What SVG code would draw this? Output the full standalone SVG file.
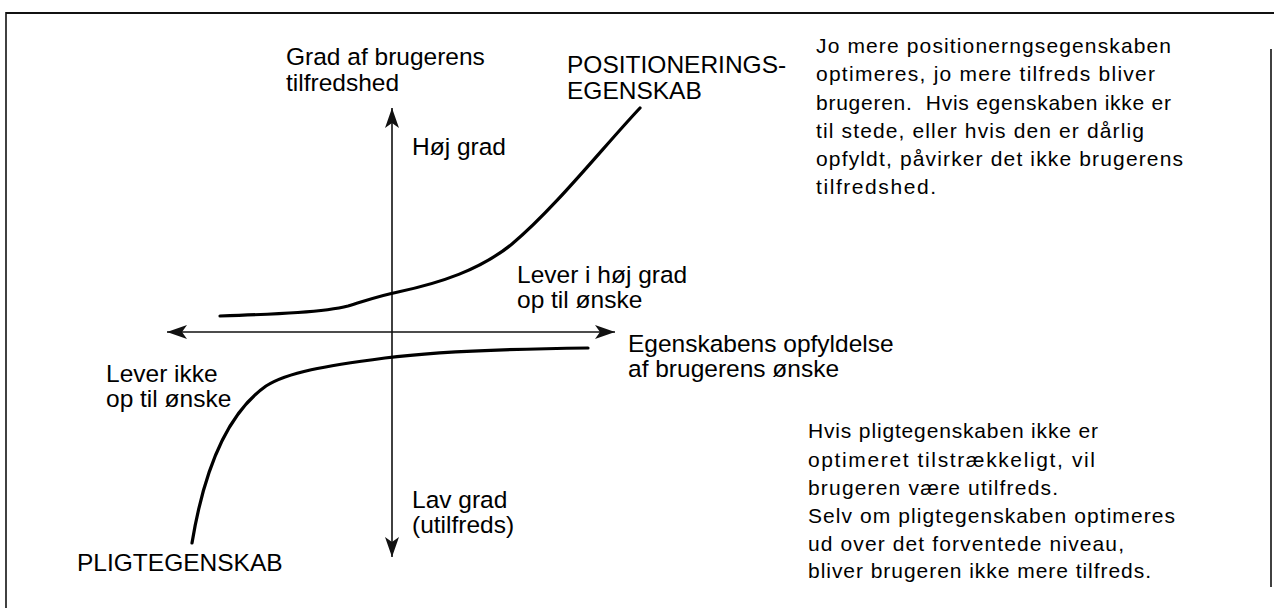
<svg xmlns="http://www.w3.org/2000/svg" width="1274" height="608" viewBox="0 0 1274 608">
  <style>
    .lbl { font-family: "Liberation Sans", Arial, sans-serif; font-size: 24.5px; fill: #000; }
    .hand { font-family: "Liberation Sans", Arial, sans-serif; font-size: 21px; fill: #000; white-space: pre; }
    .axis { stroke: #111; stroke-width: 1.6; fill: none; }
    .curve { stroke: #000; stroke-width: 3.2; fill: none; stroke-linecap: round; stroke-linejoin: round; }
    .frame { stroke: #111; fill: none; }
  </style>
  <defs>
    <marker id="arrow" viewBox="0 0 20 14" refX="20" refY="7" markerWidth="20" markerHeight="14" markerUnits="userSpaceOnUse" orient="auto-start-reverse">
      <path d="M0,0 L20,7 L0,14 L5,7 Z" fill="#111"/>
    </marker>
  </defs>
  <rect x="0" y="0" width="1274" height="608" fill="#fff"/>

  <g id="frame">
    <line class="frame" x1="6" y1="13" x2="1274" y2="13" stroke-width="2.2"/>
    <line class="frame" x1="6" y1="12" x2="6" y2="608" stroke-width="1.6"/>
    <line class="frame" x1="1271" y1="49" x2="1271" y2="587" stroke-width="1.6"/>
  </g>

  <g id="connectors">
    <line id="y-axis" class="axis" x1="392" y1="557" x2="392" y2="108" marker-start="url(#arrow)" marker-end="url(#arrow)"/>
    <line id="x-axis" class="axis" x1="167" y1="332" x2="615" y2="332" marker-start="url(#arrow)" marker-end="url(#arrow)"/>
    <path id="curve-positionering" class="curve" d="M220,316 C280,314 325,312 348,306 C365,301 378,296 398,292 C440,283 480,270 512,244 C555,208 605,145 640,108"/>
    <path id="curve-pligt" class="curve" d="M588,348 C500,349 425,353 385,358 C325,366 288,372 266,386 C232,410 206,458 192,543"/>
  </g>

  <g id="y-axis-title">
    <text class="lbl" x="286" y="65">Grad af brugerens</text>
    <text class="lbl" x="286" y="91">tilfredshed</text>
  </g>
  <g id="hoej-grad">
    <text class="lbl" x="412" y="155">Høj grad</text>
  </g>
  <g id="positionering-label">
    <text class="lbl" x="567" y="73">POSITIONERINGS-</text>
    <text class="lbl" x="567" y="99">EGENSKAB</text>
  </g>
  <g id="lever-hoej">
    <text class="lbl" x="517" y="283">Lever i høj grad</text>
    <text class="lbl" x="517" y="308">op til ønske</text>
  </g>
  <g id="x-axis-title">
    <text class="lbl" x="628" y="352">Egenskabens opfyldelse</text>
    <text class="lbl" x="628" y="377">af brugerens ønske</text>
  </g>
  <g id="lever-ikke">
    <text class="lbl" x="106" y="382">Lever ikke</text>
    <text class="lbl" x="106" y="407">op til ønske</text>
  </g>
  <g id="lav-grad">
    <text class="lbl" x="412" y="508">Lav grad</text>
    <text class="lbl" x="412" y="533">(utilfreds)</text>
  </g>
  <g id="pligt-label">
    <text class="lbl" x="77" y="571">PLIGTEGENSKAB</text>
  </g>

  <g id="note-positionering">
    <text class="hand" x="816" y="53" textLength="355">Jo mere positionerngsegenskaben</text>
    <text class="hand" x="816" y="81" textLength="339">optimeres, jo mere tilfreds bliver</text>
    <text class="hand" x="816" y="110" textLength="355" xml:space="preserve">brugeren.  Hvis egenskaben ikke er</text>
    <text class="hand" x="816" y="138" textLength="328">til stede, eller hvis den er dårlig</text>
    <text class="hand" x="816" y="166" textLength="367">opfyldt, påvirker det ikke brugerens</text>
    <text class="hand" x="816" y="194" textLength="120">tilfredshed.</text>
  </g>
  <g id="note-pligt">
    <text class="hand" x="808" y="438" textLength="290">Hvis pligtegenskaben ikke er</text>
    <text class="hand" x="808" y="467" textLength="287">optimeret tilstrækkeligt, vil</text>
    <text class="hand" x="808" y="495" textLength="250">brugeren være utilfreds.</text>
    <text class="hand" x="808" y="523" textLength="367">Selv om pligtegenskaben optimeres</text>
    <text class="hand" x="808" y="551" textLength="316">ud over det forventede niveau,</text>
    <text class="hand" x="808" y="578" textLength="343">bliver brugeren ikke mere tilfreds.</text>
  </g>
</svg>
